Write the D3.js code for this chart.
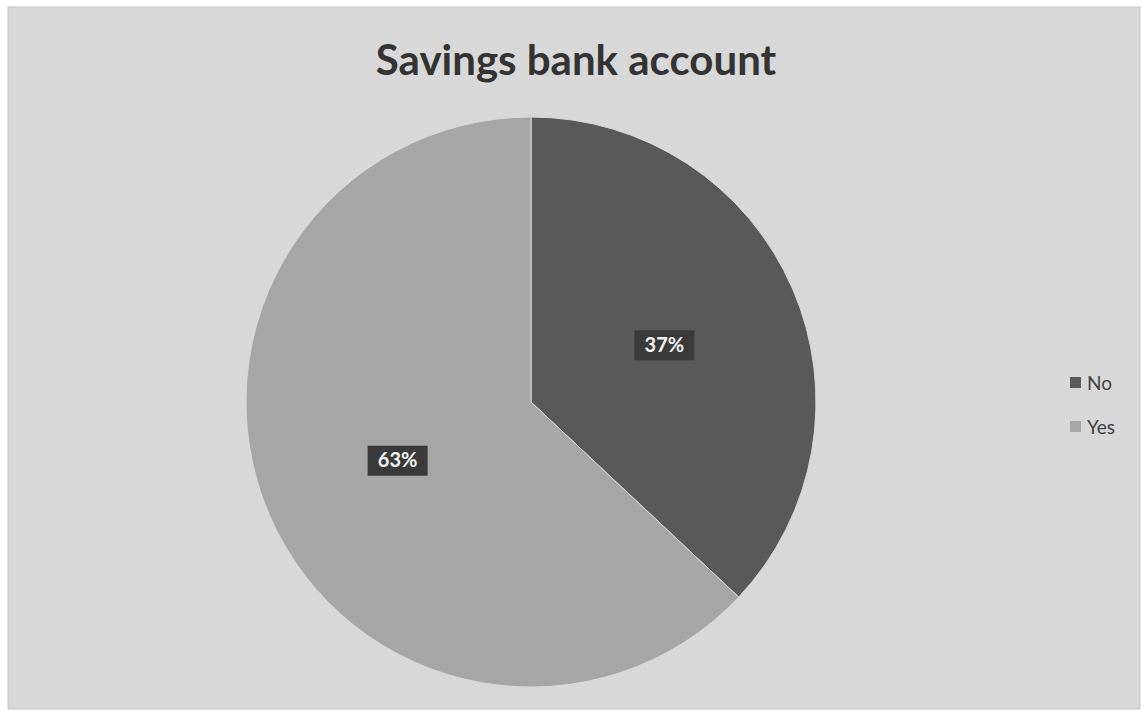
<!DOCTYPE html>
<html>
<head>
<meta charset="utf-8">
<script src="https://cdn.jsdelivr.net/npm/d3@7"></script>
<style>
  html, body { margin: 0; padding: 0; background: #ffffff; }
  svg { display: block; }
</style>
</head>
<body>
<svg id="chart" width="1146" height="713"></svg>
<script>
const categories = ["No", "Yes"];
const values = [37, 63];
const labels = ["37%", "63%"];
const title = "Savings bank account";

const W = 1146, H = 713;
const svg = d3.select("#chart");

// chart frame
svg.append("rect")
  .attr("x", 8).attr("y", 7)
  .attr("width", W - 14).attr("height", H - 11)
  .attr("fill", "#d8d8d8")
  .attr("stroke", "#c4c4c4").attr("stroke-width", 1);

svg.append("text")
  .attr("x", 576).attr("y", 75)
  .attr("text-anchor", "middle")
  .attr("font-family", "Lato, 'Open Sans', sans-serif")
  .attr("font-weight", "bold")
  .attr("font-size", 42)
  .attr("fill", "#333333")
  .text(title);

const color = d3.scaleOrdinal().domain(categories).range(["#595959", "#a6a6a6"]);

const cx = 531, cy = 402, r = 285;
const pie = d3.pie().sort(null).value(d => d.value);
const arcs = pie(categories.map((c, i) => ({ cat: c, value: values[i], label: labels[i] })));
const arc = d3.arc().innerRadius(0).outerRadius(r);
const labelArc = d3.arc().innerRadius(r * 0.51).outerRadius(r * 0.51);

const g = svg.append("g").attr("transform", `translate(${cx},${cy})`);

g.selectAll("path.slice")
  .data(arcs)
  .join("path")
  .attr("class", "slice")
  .attr("d", arc)
  .attr("fill", d => color(d.data.cat))
  .attr("stroke", "#d8d8d8")
  .attr("stroke-width", 1);

const lab = g.selectAll("g.lab")
  .data(arcs)
  .join("g")
  .attr("class", "lab")
  .attr("transform", d => `translate(${labelArc.centroid(d)})`);

lab.append("rect")
  .attr("x", -30).attr("y", -14)
  .attr("width", 60).attr("height", 30)
  .attr("fill", "#3a3a3a");

lab.append("text")
  .attr("text-anchor", "middle")
  .attr("dy", "0.38em")
  .attr("font-family", "Lato, 'Open Sans', sans-serif")
  .attr("font-weight", "bold")
  .attr("font-size", 20)
  .attr("fill", "#f2f2f2")
  .text(d => d.data.label);

// legend
const legend = svg.append("g").attr("transform", "translate(1070,383)");
const item = legend.selectAll("g")
  .data(categories)
  .join("g")
  .attr("transform", (d, i) => `translate(0,${i * 44})`);

item.append("rect")
  .attr("x", 0).attr("y", -6)
  .attr("width", 11).attr("height", 11)
  .attr("fill", d => color(d));

item.append("text")
  .attr("x", 17).attr("y", 0)
  .attr("dy", "0.36em")
  .attr("font-family", "Lato, 'Open Sans', sans-serif")
  .attr("font-size", 19)
  .attr("fill", "#404040")
  .text(d => d);
</script>
</body>
</html>
